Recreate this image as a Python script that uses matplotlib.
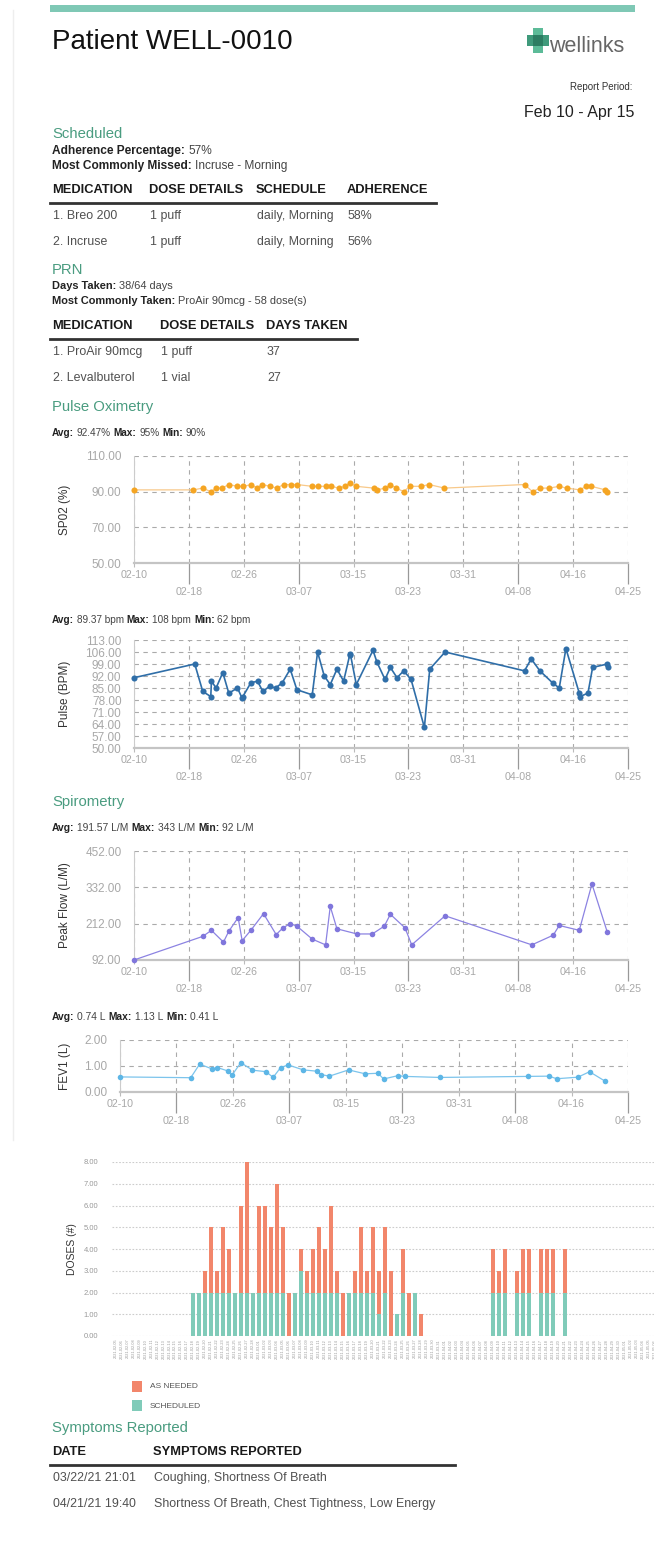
import matplotlib.pyplot as plt
import numpy as np
import pandas as pd
from matplotlib.patches import Rectangle

plt.rcParams['font.family'] = ['Liberation Sans', 'DejaVu Sans']

W, H = 654, 1542
GREEN = '#4a9c80'
TEAL = '#80cbb9'
RED = '#f2866b'
DARK = '#222222'
GREY = '#a8a8a8'

# ---- data -------------------------------------------------------------
sched_rows = [["1. Breo 200", "1 puff", "daily, Morning", "58%"],
              ["2. Incruse", "1 puff", "daily, Morning", "56%"]]
prn_rows = [["1. ProAir 90mcg", "1 puff", "37"],
            ["2. Levalbuterol", "1 vial", "27"]]
symptom_rows = [["03/22/21 21:01", "Coughing, Shortness Of Breath"],
                ["04/21/21 19:40", "Shortness Of Breath, Chest Tightness, Low Energy"]]

# x axis of the trend charts: days since Feb 10
tick_labels = ["02-10", "02-18", "02-26", "03-07", "03-15",
               "03-23", "03-31", "04-08", "04-16", "04-25"]

spo2_day = [0, 8.9, 10.3, 11.5, 12.3, 13.2, 14.2, 15.5, 16.4, 17.6, 18.4, 19.2,
            20.4, 21.4, 22.4, 23.5, 24.4, 26.7, 27.5, 28.7, 29.5, 30.7, 31.6,
            32.3, 33.3, 35.9, 36.4, 37.6, 38.4, 39.3, 40.4, 41.3, 43.0, 44.2,
            46.5, 58.5, 59.7, 60.8, 62.2, 63.7, 64.8, 66.8, 67.7, 68.5, 70.6, 70.9]
spo2_val = [91, 91, 92, 90, 92, 92, 94, 93, 93, 94, 92, 94,
            93, 92, 94, 94, 94, 93, 93, 93, 93, 92, 93,
            95, 93, 92, 91, 92, 94, 92, 90, 93, 93, 94,
            92, 94, 90, 92, 92, 93, 92, 91, 93, 93, 91, 90]

pulse_day = [0, 9.1, 10.3, 11.5, 11.6, 12.3, 13.3, 14.2, 15.5, 16.2, 16.3, 17.5,
             18.5, 19.3, 20.3, 21.2, 22.2, 23.4, 24.4, 26.7, 27.5, 28.5, 29.4,
             30.4, 31.4, 32.3, 32.4, 33.3, 35.8, 36.4, 37.6, 38.4, 39.4, 40.4,
             41.5, 43.5, 44.3, 46.6, 58.5, 59.5, 60.8, 62.7, 63.7, 64.7, 66.7,
             66.8, 68.0, 68.7, 70.9, 71.0]
pulse_val = [91, 99, 83, 80, 89, 85, 94, 82, 85, 79, 80, 88,
             89, 83, 86, 85, 88, 96, 84, 81, 106, 92, 87,
             96, 89, 104, 105, 87, 107, 100, 90, 97, 91, 95,
             90, 62, 96, 106, 95, 102, 95, 88, 85, 108, 82,
             80, 82, 97, 99, 97]

pef_day = [0, 10.3, 11.6, 13.4, 14.2, 15.6, 16.2, 17.5, 19.4, 21.3, 22.3, 23.4,
           24.4, 26.7, 28.7, 29.4, 30.4, 33.4, 35.7, 37.5, 38.4, 40.6, 41.6,
           46.6, 59.6, 62.8, 63.7, 66.7, 68.6, 70.9]
pef_val = [92, 170, 190, 151, 187, 232, 156, 190, 245, 176, 198, 212,
           204, 161, 142, 269, 195, 178, 178, 204, 243, 198, 142,
           238, 142, 174, 206, 190, 343, 184]

fev_day = [0, 10.3, 11.6, 13.4, 14.2, 15.7, 16.3, 17.6, 19.3, 21.3, 22.3, 23.4,
           24.5, 26.7, 28.7, 29.3, 30.5, 33.3, 35.7, 37.6, 38.4, 40.5, 41.5,
           46.6, 59.5, 62.5, 63.6, 66.7, 68.4, 70.7]
fev_val = [0.58, 0.55, 1.07, 0.89, 0.94, 0.81, 0.64, 1.13, 0.84, 0.78, 0.56, 0.94,
           1.04, 0.85, 0.80, 0.67, 0.61, 0.85, 0.70, 0.72, 0.50, 0.63, 0.60,
           0.56, 0.60, 0.61, 0.51, 0.57, 0.78, 0.41]

# daily doses, Feb 5 .. May 6
dose_dates = pd.date_range("2021-02-05", periods=91).strftime("%Y-%m-%d")
dose_sched = [0] * 13 + [2, 2, 2, 2, 2, 2, 2, 2, 2, 2, 2, 2, 2, 2, 2, 2, 0, 2, 3, 2,
                         2, 2, 2, 2, 2, 0, 2, 2, 2, 2, 2, 1, 2, 0, 1, 2, 0, 2, 0] \
    + [0] * 11 + [2, 2, 2, 0, 2, 2, 2, 0, 2, 2, 2, 0, 2] + [0] * 15
dose_prn = [0] * 13 + [0, 0, 1, 3, 1, 3, 2, 0, 4, 6, 0, 4, 4, 3, 5, 3, 2, 0, 1, 1,
                       2, 3, 2, 4, 1, 2, 0, 1, 3, 1, 3, 2, 3, 3, 0, 2, 2, 0, 1] \
    + [0] * 11 + [2, 1, 2, 0, 1, 2, 2, 0, 2, 2, 2, 0, 2] + [0] * 15


def frect(l, t, r, b):
    return [l / W, 1 - b / H, (r - l) / W, (b - t) / H]


fig = plt.figure(figsize=(W / 100, H / 100), dpi=100)
bg = fig.add_axes([0, 0, 1, 1])
bg.set_xlim(0, W)
bg.set_ylim(H, 0)
bg.axis('off')
renderer = fig.canvas.get_renderer()


def txt(x, y, s, size=8, color=DARK, weight='normal', ha='left', **kw):
    return bg.text(x, y, s, fontsize=size, color=color, fontweight=weight,
                   ha=ha, va='center', **kw)


def rich(x, y, parts, size=7.5):
    # parts: (text, bold?) drawn one after the other
    gap = size * 100 / 72 * 0.28
    for s, bold in parts:
        t = txt(x, y, s, size, DARK if bold else '#444',
                'bold' if bold else 'normal')
        x += t.get_window_extent(renderer=renderer).width + gap


def table(y, cols, header, rows, right, step=26):
    for cx, h in zip(cols, header):
        txt(cx, y, h, 9.3, '#1a1a1a', 'bold')
    bg.plot([50, right], [y + 13, y + 13], color='#333', lw=2)
    for i, row in enumerate(rows):
        for cx, s in zip(cols, row):
            txt(cx + 1, y + 26 + i * step, s, 8.9, '#505050')


# ---- header -------------------------------------------------------------
bg.add_patch(Rectangle((50, 5), 585, 7, color='#7fc8b5', lw=0))
bg.plot([13, 13], [10, 1140], color='#eeeeee', lw=1)
txt(52, 42, "Patient WELL-0010", 20, '#111')
bg.add_patch(Rectangle((533, 28), 10, 25, color='#5cbb98', lw=0))
bg.add_patch(Rectangle((527, 35), 22, 11, color='#3f9a7b', lw=0))
bg.add_patch(Rectangle((533, 35), 10, 11, color='#2c7d62', lw=0))
txt(549, 46, "wellinks", 15.5, '#666')
txt(632, 87, "Report Period:", 7, '#333', ha='right')
txt(634, 112, "Feb 10 - Apr 15", 11.5, '#222', ha='right')

# ---- scheduled / prn ------------------------------------------------------
txt(52, 134, "Scheduled", 10.7, GREEN)
rich(52, 151, [("Adherence Percentage:", True), ("57%", False)], 8.6)
rich(52, 166, [("Most Commonly Missed:", True), ("Incruse - Morning", False)], 8.6)
table(190, [52, 149, 256, 347], ["MEDICATION", "DOSE DETAILS", "SCHEDULE", "ADHERENCE"],
      sched_rows, 436)

txt(52, 270, "PRN", 10.7, GREEN)
rich(52, 286, [("Days Taken:", True), ("38/64 days", False)], 7.9)
rich(52, 301, [("Most Commonly Taken:", True), ("ProAir 90mcg - 58 dose(s)", False)], 7.9)
table(326, [52, 160, 266], ["MEDICATION", "DOSE DETAILS", "DAYS TAKEN"], prn_rows, 357)


# ---- trend charts ---------------------------------------------------------
def trend(l, t, r, b, days, vals, mcolor, lcolor, ylim, yticks, ylabel, ms=4.4, lw=1.0):
    ax = fig.add_axes(frect(l, t, r, b))
    ax.patch.set_alpha(0)
    ax.plot(days, vals, color=lcolor, lw=lw, zorder=3, clip_on=False)
    ax.plot(days, vals, 'o', color=mcolor, ms=ms, mew=0, zorder=4, clip_on=False)
    ax.set_xlim(0, 74)
    ax.set_ylim(*ylim)
    ax.set_yticks(yticks)
    ax.set_yticklabels([f"{v:.2f}" for v in yticks])
    pos = np.linspace(0, 74, len(tick_labels))
    ax.set_xticks(pos[::2])
    ax.set_xticklabels(tick_labels[::2])
    ax.set_xticks(pos[1::2], minor=True)
    ax.set_xticklabels(tick_labels[1::2], minor=True)
    ax.grid(True, which='both', ls=(0, (4, 4)), color='#aaaaaa', lw=0.8)
    for sp in ['top', 'right']:
        ax.spines[sp].set_visible(False)
    ax.spines['left'].set_color('#cccccc')
    ax.spines['bottom'].set_color('#c4c4c4')
    ax.spines['bottom'].set_linewidth(1.6)
    ax.tick_params(axis='y', length=0, labelsize=8.5, labelcolor=GREY, pad=9)
    ax.tick_params(axis='x', which='major', length=3, color='#bbbbbb',
                   labelsize=7.7, labelcolor=GREY, pad=2)
    ax.tick_params(axis='x', which='minor', length=15, width=0.9, color='#999999',
                   labelsize=7.7, labelcolor=GREY, pad=2)
    txt(65, (t + b) / 2, ylabel, 8.5, '#333', rotation=90, ha='center')
    return ax


txt(52, 407, "Pulse Oximetry", 10.7, GREEN)
rich(52, 433, [("Avg:", True), ("92.47%", False), ("Max:", True), ("95%", False),
               ("Min:", True), ("90%", False)], 7.2)
trend(134, 456, 628, 563, spo2_day, spo2_val, '#f5a523', '#f8c98a',
      (50, 110), [50, 70, 90, 110], "SP02 (%)", lw=0.9)

rich(52, 620, [("Avg:", True), ("89.37 bpm", False), ("Max:", True), ("108 bpm", False),
               ("Min:", True), ("62 bpm", False)], 7.2)
trend(134, 640, 628, 748, pulse_day, pulse_val, '#2f6ea8', '#2f6ea8',
      (50, 113), list(range(50, 114, 7)), "Pulse (BPM)", lw=1.2)

txt(52, 802, "Spirometry", 10.7, GREEN)
rich(52, 828, [("Avg:", True), ("191.57 L/M", False), ("Max:", True), ("343 L/M", False),
               ("Min:", True), ("92 L/M", False)], 7.4)
trend(134, 851, 628, 960, pef_day, pef_val, '#8076dc', '#8c83e2',
      (92, 452), [92, 212, 332, 452], "Peak Flow (L/M)", ms=4.0, lw=0.9)

rich(52, 1017, [("Avg:", True), ("0.74 L", False), ("Max:", True), ("1.13 L", False),
                ("Min:", True), ("0.41 L", False)], 7.4)
trend(120, 1040, 628, 1092, fev_day, fev_val, '#5db6e6', '#7cc4ec',
      (0, 2), [0, 1, 2], "FEV1 (L)", ms=4.0, lw=0.9)

# ---- doses bar chart ------------------------------------------------------
x = np.arange(-13, 78)
axb = fig.add_axes(frect(112.4, 1162, 657.5, 1336))
axb.patch.set_alpha(0)
axb.bar(x, dose_sched, width=0.62, color=TEAL, zorder=3)
axb.bar(x, dose_prn, bottom=dose_sched, width=0.62, color=RED, zorder=3)
axb.set_xlim(-13.5, 77.5)
axb.set_ylim(0, 8)
axb.set_yticks(range(9))
axb.set_yticklabels([f"{v:.2f}" for v in range(9)])
axb.set_xticks(x)
axb.set_xticklabels(dose_dates, rotation=90)
axb.grid(True, axis='y', ls=(0, (1.5, 1.5)), color='#cccccc', lw=0.8)
for sp in axb.spines.values():
    sp.set_visible(False)
axb.tick_params(axis='y', length=0, labelsize=5.5, labelcolor='#999999', pad=10)
axb.tick_params(axis='x', length=0, labelsize=2.8, labelcolor='#999999', pad=2)
txt(72, 1249, "DOSES (#)", 7.5, '#333', rotation=90, ha='center')

bg.add_patch(Rectangle((132, 1381), 10, 11, color=RED, lw=0))
bg.add_patch(Rectangle((132, 1400), 10, 11, color=TEAL, lw=0))
txt(150, 1387, "AS NEEDED", 6, '#555')
txt(150, 1406, "SCHEDULED", 6, '#555')

# ---- symptoms -------------------------------------------------------------
txt(52, 1428, "Symptoms Reported", 10.7, GREEN)
table(1452, [52, 153], ["DATE", "SYMPTOMS REPORTED"], symptom_rows, 455)

fig.savefig("out.png", dpi=100, facecolor='white')
